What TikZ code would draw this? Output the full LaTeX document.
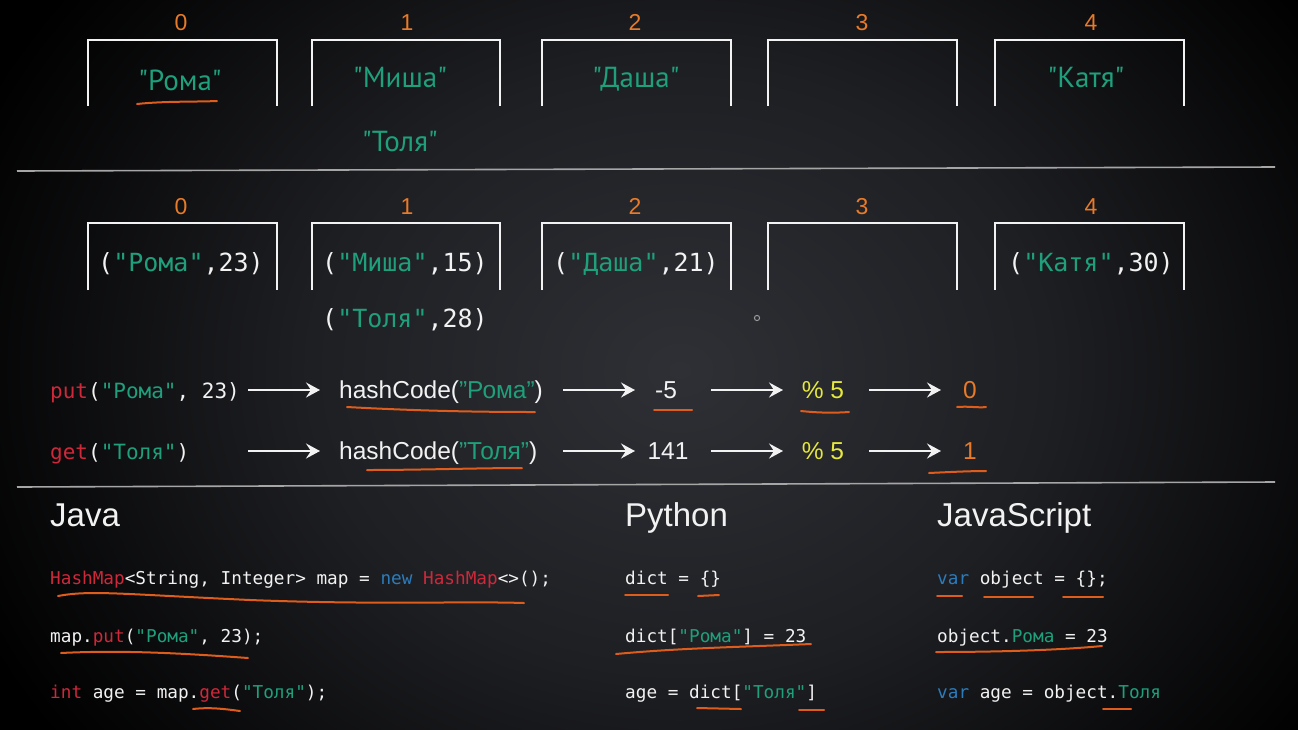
\documentclass[tikz,border=0pt]{standalone}
\usepackage{fontspec}
\setmainfont{Liberation Sans}
\setmonofont{DejaVu Sans Mono}
\newfontfamily\comicf{PT Sans}
\usetikzlibrary{arrows.meta}
\definecolor{grn}{RGB}{30,160,124}
\definecolor{org}{RGB}{232,122,40}
\definecolor{uline}{RGB}{222,92,28}
\definecolor{rd}{RGB}{206,40,58}
\definecolor{bl}{RGB}{44,124,188}
\definecolor{yl}{RGB}{230,232,60}
\definecolor{wt}{RGB}{242,242,242}
\definecolor{bgc}{RGB}{46,48,53}
\definecolor{bgm}{RGB}{30,31,35}
\pgfdeclareradialshading{bgshade}{\pgfpoint{0bp}{0bp}}{color(0bp)=(bgc); color(12bp)=(bgm); color(25bp)=(black); color(50bp)=(black)}
\tikzset{
  idx/.style={text=org, font=\fontsize{23}{23}\selectfont, anchor=base, inner sep=0pt},
  toptxt/.style={text=grn, font=\comicf\fontsize{29}{29}\selectfont, anchor=base, inner sep=0pt},
  pair/.style={text=wt, font=\ttfamily\fontsize{25}{25}\selectfont, anchor=base, inner sep=0pt},
  call/.style={text=wt, font=\ttfamily\fontsize{21}{21}\selectfont, anchor=base west, inner sep=0pt},
  sanst/.style={text=wt, font=\fontsize{24.5}{24}\selectfont, anchor=base, inner sep=0pt},
  head/.style={text=wt, font=\fontsize{33}{33}\selectfont, anchor=base west, inner sep=0pt},
  code/.style={text=wt, font=\ttfamily\fontsize{17.7}{18}\selectfont, anchor=base west, inner sep=0pt},
  bucket/.style={draw=wt, line width=2.4pt},
  sep/.style={draw=gray!70!white, line width=1.6pt},
  arr/.style={draw=wt, line width=2.6pt, -{Stealth[length=14pt,width=15pt,inset=5pt]}},
  ul/.style={draw=uline, line width=2pt, line cap=round},
}
\begin{document}
\begin{tikzpicture}[x=1pt,y=-1pt]
\useasboundingbox (0,0) rectangle (1298,729);
\fill[black] (0,0) rectangle (1298,729);
\begin{scope}
\clip (0,0) rectangle (1298,729);
\shade[shading=bgshade] (-90,-260) rectangle (1450,1000);
\end{scope}

% ---------- top buckets ----------
\foreach \l/\r in {88/277, 312/500, 542/731, 768/957, 995/1184}{
  \draw[bucket] (\l,106) -- (\l,40) -- (\r,40) -- (\r,106);
}
\node[idx] (ia0) at (181,30) {0};
\node[idx] (ia1) at (407,30) {1};
\node[idx] (ia2) at (635,30) {2};
\node[idx] (ia3) at (862,30) {3};
\node[idx] (ia4) at (1091,30) {4};
\node[toptxt] (ta0) at (180,90) {"Рома"};
\node[toptxt] (ta1) at (400,87) {"Миша"};
\node[toptxt] (ta2) at (636,87) {"Даша"};
\node[toptxt] (ta4) at (1086,87) {"Катя"};
\node[toptxt] (ta1b) at (400,151) {"Толя"};
\draw[ul] (137,104) .. controls (165,101) and (195,102) .. (217,101);

\draw[sep] (17,171) -- (1275,167);

% ---------- middle buckets ----------
\foreach \l/\r in {88/277, 312/500, 542/731, 768/957, 995/1184}{
  \draw[bucket] (\l,290) -- (\l,223) -- (\r,223) -- (\r,290);
}
\node[idx] (ib0) at (181,214) {0};
\node[idx] (ib1) at (407,214) {1};
\node[idx] (ib2) at (635,214) {2};
\node[idx] (ib3) at (862,214) {3};
\node[idx] (ib4) at (1091,214) {4};
\node[pair] (pb0) at (181,271) {(\textcolor{grn}{"Рома"},23)};
\node[pair] (pb1) at (405,271) {(\textcolor{grn}{"Миша"},15)};
\node[pair] (pb2) at (636,271) {(\textcolor{grn}{"Даша"},21)};
\node[pair] (pb4) at (1091,271) {(\textcolor{grn}{"Катя"},30)};
\node[pair] (pb1b) at (405,327) {(\textcolor{grn}{"Толя"},28)};
\draw[gray!80!white, line width=1pt] (757,318) circle (2.6pt);

% ---------- flow rows ----------
\node[call] (put) at (50,398) {\textcolor{rd}{put}(\textcolor{grn}{"Рома"}, 23)};
\node[sanst, anchor=base west] (hc1) at (339,398) {hashCode(\textcolor{grn}{"Рома"})};
\node[sanst] (h1) at (666,398) {-5};
\node[sanst, text=yl] (m1) at (823,398) {\% 5};
\node[sanst, text=org] (r1) at (970,398) {0};

\node[call] (get) at (50,459) {\textcolor{rd}{get}(\textcolor{grn}{"Толя"})};
\node[sanst, anchor=base west] (hc2) at (339,459) {hashCode(\textcolor{grn}{"Толя"})};
\node[sanst] (h2) at (668,459) {141};
\node[sanst, text=yl] (m2) at (823,459) {\% 5};
\node[sanst, text=org] (r2) at (970,459) {1};

\foreach \r/\y in {1/390, 2/451}{
  \coordinate (a\r s1) at (248,\y); \coordinate (a\r e1) at (320,\y);
  \coordinate (a\r s2) at (563,\y); \coordinate (a\r e2) at (635,\y);
  \coordinate (a\r s3) at (711,\y); \coordinate (a\r e3) at (783,\y);
  \coordinate (a\r s4) at (869,\y); \coordinate (a\r e4) at (941,\y);
  \foreach \k in {1,2,3,4}{ \draw[arr] (a\r s\k) -- (a\r e\k); }
}

\draw[ul] (347,407) .. controls (420,411) and (480,412) .. (535,412);
\draw[ul] (654,410) -- (692,410);
\draw[ul] (801,411) .. controls (820,413) and (835,413) .. (849,412);
\draw[ul] (957,407) .. controls (970,406) and (978,408) .. (986,407);
\draw[ul] (367,470) .. controls (420,470) and (480,468) .. (522,468);
\draw[ul] (929,473) .. controls (950,472) and (970,471) .. (986,471);

\draw[sep] (17,487) -- (1275,482);

% ---------- languages ----------
\node[head] (java) at (50,526) {Java};
\node[head] (py) at (625,526) {Python};
\node[head] (js) at (937,526) {JavaScript};

\node[code] (j1) at (50,584) {\textcolor{rd}{HashMap}<String, Integer> map = \textcolor{bl}{new} \textcolor{rd}{HashMap}<>();};
\node[code] (j2) at (50,642) {map.\textcolor{rd}{put}(\textcolor{grn}{"Рома"}, 23);};
\node[code] (j3) at (50,698) {\textcolor{rd}{int} age = map.\textcolor{rd}{get}(\textcolor{grn}{"Толя"});};

\node[code] (p1) at (625,584) {dict = \{\}};
\node[code] (p2) at (625,642) {dict[\textcolor{grn}{"Рома"}] = 23};
\node[code] (p3) at (625,698) {age = dict[\textcolor{grn}{"Толя"}]};

\node[code] (s1) at (937,584) {\textcolor{bl}{var} object = \{\};};
\node[code] (s2) at (937,642) {object.\textcolor{grn}{Рома} = 23};
\node[code] (s3) at (937,698) {\textcolor{bl}{var} age = object.\textcolor{grn}{Толя}};

\draw[ul] (58,596) .. controls (90,590) and (120,594) .. (250,600) .. controls (380,605) and (460,601) .. (524,603);
\draw[ul] (61,653) .. controls (120,650) and (180,653) .. (248,658);
\draw[ul] (193,709) .. controls (210,707) and (225,709) .. (240,711);
\draw[ul] (625,595) -- (668,595);
\draw[ul] (698,596) -- (719,595);
\draw[ul] (616,654) .. controls (680,648) and (740,647) .. (811,644);
\draw[ul] (697,708) -- (741,709);
\draw[ul] (799,710) -- (824,710);
\draw[ul] (937,596) -- (962,596);
\draw[ul] (984,597) -- (1033,597);
\draw[ul] (1063,597) -- (1103,597);
\draw[ul] (936,652) .. controls (1000,652) and (1060,650) .. (1102,646);
\draw[ul] (1103,709) -- (1131,709);
\end{tikzpicture}
\end{document}
